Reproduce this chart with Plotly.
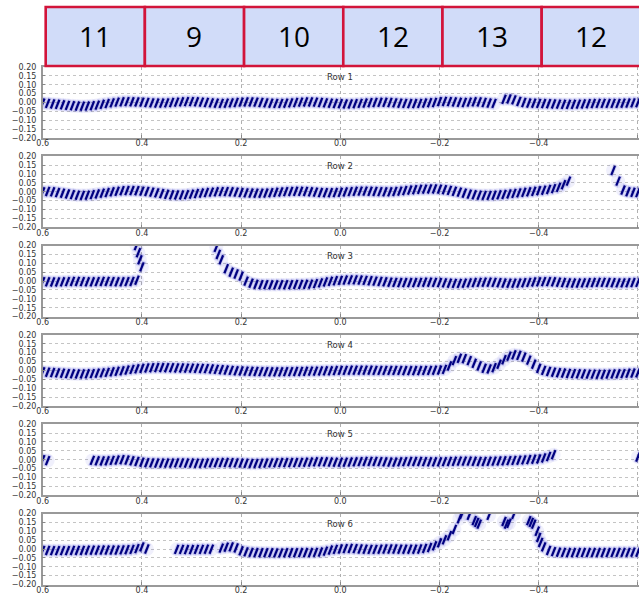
import numpy as np
import plotly.graph_objects as go

# Sample positions along the horizontal coordinate (0.60 down to -0.60, step 0.01)
x_grid = np.round(np.linspace(0.60, -0.60, 121), 2)

N = None
row1 = [-0.003, -0.005, -0.008, -0.010, -0.013,
        -0.016, -0.018, -0.020, -0.021, -0.020,
        -0.018, -0.015, -0.010, -0.006, -0.002,
        0.002, 0.004, 0.005, 0.004, 0.003,
        0.002, 0.000, -0.002, -0.003, -0.003,
        -0.002, 0.000, 0.002, 0.004, 0.005,
        0.005, 0.004, 0.002, 0.000, -0.002,
        -0.004, -0.005, -0.004, -0.002, 0.000,
        0.002, 0.003, 0.003, 0.002, 0.000,
        -0.002, -0.004, -0.005, -0.005, -0.004,
        -0.002, 0.000, 0.002, 0.003, 0.003,
        0.002, 0.000, -0.002, -0.004, -0.006,
        -0.007, -0.008, -0.008, -0.007, -0.005,
        -0.003, -0.001, 0.000, 0.001, 0.001,
        0.000, -0.002, -0.004, -0.005, -0.006,
        -0.006, -0.005, -0.003, -0.001, 0.000,
        0.005, 0.006, 0.005, 0.003, 0.001,
        0.000, 0.002, 0.004, 0.003, 0.000,
        -0.003, -0.005, N, 0.018, 0.020,
        0.015, 0.006, 0.000, -0.003, -0.004,
        -0.005, -0.006, -0.007, -0.008, -0.009,
        -0.010, -0.010, -0.010, -0.009, -0.008,
        -0.007, -0.006, -0.005, -0.005, -0.005,
        -0.005, -0.005, -0.004, -0.003, -0.002,
        -0.001]

row2 = [0.000, 0.002, 0.000, -0.004, -0.008,
        -0.012, -0.016, -0.019, -0.020, -0.019,
        -0.016, -0.012, -0.008, -0.004, 0.000,
        0.003, 0.006, 0.007, 0.007, 0.006,
        0.004, 0.002, -0.002, -0.006, -0.010,
        -0.014, -0.017, -0.018, -0.018, -0.016,
        -0.013, -0.010, -0.007, -0.004, -0.002,
        0.000, 0.001, 0.001, 0.000, -0.002,
        -0.004, -0.006, -0.007, -0.008, -0.008,
        -0.007, -0.005, -0.003, -0.001, 0.001,
        0.002, 0.003, 0.003, 0.002, 0.000,
        -0.002, -0.004, -0.005, -0.005, -0.004,
        -0.003, -0.001, 0.001, 0.003, 0.004,
        0.004, 0.003, 0.002, 0.001, 0.000,
        0.000, 0.002, 0.004, 0.007, 0.010,
        0.012, 0.014, 0.015, 0.016, 0.016,
        0.015, 0.012, 0.008, 0.003, -0.002,
        -0.008, -0.013, -0.017, -0.019, -0.020,
        -0.020, -0.019, -0.017, -0.015, -0.012,
        -0.009, -0.006, -0.003, 0.000, 0.003,
        0.006, 0.009, 0.013, 0.018, 0.025,
        0.040, 0.060, N, N, N,
        N, N, N, N, N,
        0.120, 0.060, 0.010, 0.000, -0.003,
        -0.004]

row3 = [-0.003, -0.004, -0.005, -0.005, -0.004,
        -0.003, -0.002, -0.002, -0.003, -0.004,
        -0.004, -0.003, -0.002, -0.002, -0.003,
        -0.004, -0.004, -0.003, -0.002, 0.005,
        0.080, N, N, N, N,
        N, N, N, N, N,
        N, N, N, N, N,
        0.190, 0.120, 0.070, 0.050, 0.040,
        0.028, 0.000, -0.012, -0.018, -0.020,
        -0.020, -0.021, -0.021, -0.020, -0.020,
        -0.020, -0.019, -0.019, -0.018, -0.017,
        -0.014, -0.010, -0.005, -0.001, 0.002,
        0.004, 0.006, 0.007, 0.007, 0.006,
        0.004, 0.002, 0.000, -0.002, -0.004,
        -0.006, -0.007, -0.008, -0.008, -0.008,
        -0.008, -0.007, -0.006, -0.006, -0.007,
        -0.008, -0.010, -0.012, -0.013, -0.013,
        -0.012, -0.010, -0.008, -0.007, -0.006,
        -0.006, -0.007, -0.009, -0.011, -0.012,
        -0.012, -0.011, -0.009, -0.007, -0.005,
        -0.004, -0.003, -0.003, -0.004, -0.006,
        -0.008, -0.010, -0.011, -0.011, -0.010,
        -0.009, -0.008, -0.007, -0.007, -0.008,
        -0.009, -0.010, -0.010, -0.009, -0.008,
        -0.007]

row4 = [-0.008, -0.010, -0.012, -0.014, -0.016,
        -0.018, -0.019, -0.020, -0.020, -0.019,
        -0.018, -0.016, -0.014, -0.011, -0.008,
        -0.005, -0.002, 0.002, 0.006, 0.009,
        0.012, 0.014, 0.015, 0.016, 0.016,
        0.015, 0.015, 0.014, 0.014, 0.013,
        0.013, 0.012, 0.011, 0.010, 0.008,
        0.006, 0.004, 0.002, 0.000, -0.002,
        -0.003, -0.004, -0.005, -0.006, -0.007,
        -0.007, -0.008, -0.008, -0.008, -0.007,
        -0.007, -0.006, -0.006, -0.005, -0.004,
        -0.004, -0.003, -0.002, -0.002, -0.001,
        0.000, 0.000, 0.001, 0.001, 0.001,
        0.001, 0.001, 0.000, 0.000, 0.000,
        0.000, 0.000, 0.000, -0.001, -0.001,
        -0.001, -0.001, 0.000, 0.000, 0.001,
        0.002, 0.006, 0.025, 0.055, 0.068,
        0.066, 0.055, 0.040, 0.025, 0.012,
        0.008, 0.015, 0.035, 0.060, 0.080,
        0.088, 0.085, 0.075, 0.058, 0.035,
        0.012, 0.000, -0.006, -0.010, -0.013,
        -0.015, -0.017, -0.018, -0.019, -0.020,
        -0.021, -0.021, -0.022, -0.022, -0.021,
        -0.020, -0.019, -0.018, -0.016, -0.015,
        -0.014]

row5 = [0.000, -0.005, N, N, N,
        N, N, N, N, N,
        -0.004, -0.006, -0.007, -0.006, -0.004,
        -0.002, 0.000, -0.002, -0.006, -0.010,
        -0.014, -0.017, -0.018, -0.019, -0.019,
        -0.019, -0.019, -0.018, -0.018, -0.019,
        -0.019, -0.020, -0.020, -0.019, -0.018,
        -0.017, -0.016, -0.016, -0.017, -0.018,
        -0.019, -0.020, -0.021, -0.021, -0.020,
        -0.019, -0.018, -0.017, -0.016, -0.016,
        -0.016, -0.016, -0.015, -0.014, -0.013,
        -0.012, -0.012, -0.012, -0.013, -0.014,
        -0.014, -0.014, -0.013, -0.012, -0.011,
        -0.010, -0.010, -0.010, -0.011, -0.012,
        -0.013, -0.013, -0.012, -0.011, -0.010,
        -0.010, -0.010, -0.011, -0.012, -0.012,
        -0.012, -0.011, -0.010, -0.009, -0.008,
        -0.008, -0.008, -0.009, -0.010, -0.010,
        -0.009, -0.008, -0.007, -0.006, -0.005,
        -0.004, -0.003, -0.001, 0.001, 0.003,
        0.004, 0.010, 0.018, 0.028, N,
        N, N, N, N, N,
        N, N, N, N, N,
        N, N, N, N, N,
        0.015]

row6 = [-0.008, -0.008, -0.009, -0.009, -0.009,
        -0.009, -0.008, -0.008, -0.008, -0.007,
        -0.007, -0.007, -0.006, -0.006, -0.006,
        -0.006, -0.005, -0.004, -0.002, 0.002,
        0.012, 0.000, N, N, N,
        N, N, -0.002, -0.002, -0.003,
        -0.003, -0.002, -0.002, -0.001, -0.001,
        N, 0.005, 0.010, 0.012, 0.006,
        -0.010, -0.016, -0.019, -0.020, -0.021,
        -0.021, -0.021, -0.022, -0.022, -0.021,
        -0.021, -0.021, -0.020, -0.020, -0.020,
        -0.019, -0.017, -0.012, -0.006, -0.002,
        0.000, 0.002, 0.003, 0.002, 0.000,
        -0.001, -0.002, -0.002, -0.001, 0.000,
        0.000, 0.000, -0.001, -0.001, -0.001,
        -0.001, 0.000, 0.003, 0.008, 0.018,
        0.035, 0.052, 0.075, 0.110, 0.170,
        N, 0.190, 0.160, 0.140, N,
        0.190, N, N, 0.155, 0.145,
        0.195, N, N, 0.160, 0.140,
        0.065, 0.012, -0.008, -0.015, -0.018,
        -0.019, -0.020, -0.020, -0.020, -0.020,
        -0.020, -0.020, -0.020, -0.020, -0.020,
        -0.020, -0.019, -0.019, -0.019, -0.018,
        -0.018]

# Off-grid samples on the steep stretches
extra_x = {3: [0.404, 0.407, 0.411, 0.246],
           6: [-0.245, -0.275, -0.335, -0.385, -0.397, -0.404]}
extra_y = {3: [0.120, 0.160, 0.200, 0.150],
           6: [0.195, 0.150, 0.140, 0.150, 0.100, 0.037]}

rows = [row1, row2, row3, row4, row5, row6]
row_titles = ["Row 1", "Row 2", "Row 3", "Row 4", "Row 5", "Row 6"]

bin_edges = [0.6, 0.4, 0.2, 0.0, -0.2, -0.4, -0.6]
bin_counts = [11, 9, 10, 12, 13, 12]

x_ticks = [0.6, 0.4, 0.2, 0.0, -0.2, -0.4, -0.6]
y_ticks = [0.20, 0.15, 0.10, 0.05, 0.00, -0.05, -0.10, -0.15, -0.20]

W, H = 639, 597
X_LEFT = 42.7
ROW_TOP0, ROW_STEP, ROW_H = 67.0, 89.3, 71.0
X_MIN, X_MAX = -0.6022, 0.6

DASH = "#000080"
HALO = "rgba(70,70,215,0.08)"

fig = go.Figure()
layout = dict(
    width=W, height=H,
    margin=dict(l=0, r=0, t=0, b=0, autoexpand=False),
    paper_bgcolor="white", plot_bgcolor="white",
    showlegend=False,
    font=dict(family="DejaVu Sans", size=8, color="#333"),
)

annotations = []
for k, vals in enumerate(rows, start=1):
    xs = list(x_grid) + extra_x.get(k, [])
    ys = list(vals) + extra_y.get(k, [])
    xa = "x" if k == 1 else f"x{k}"
    ya = "y" if k == 1 else f"y{k}"
    fig.add_trace(go.Scatter(
        x=xs, y=ys, mode="markers", xaxis=xa, yaxis=ya,
        marker=dict(symbol="circle", size=14, color=HALO, line=dict(width=0)),
        hoverinfo="skip", cliponaxis=True))
    fig.add_trace(go.Scatter(
        x=xs, y=ys, mode="markers", xaxis=xa, yaxis=ya,
        marker=dict(symbol="line-ns", size=8.5, angle=22,
                    line=dict(width=4, color="rgba(50,50,200,0.18)")),
        hoverinfo="skip", cliponaxis=True))
    fig.add_trace(go.Scatter(
        x=xs, y=ys, mode="markers", xaxis=xa, yaxis=ya,
        marker=dict(symbol="line-ns", size=7, angle=22,
                    line=dict(width=2.2, color=DASH)),
        cliponaxis=True))

    top = ROW_TOP0 + ROW_STEP * (k - 1)
    dom = [1 - (top + ROW_H) / H, 1 - top / H]
    sfx = "" if k == 1 else str(k)
    layout["xaxis" + sfx] = dict(
        domain=[X_LEFT / W, 1.0], range=[X_MAX, X_MIN], anchor=ya,
        automargin=False,
        tickvals=x_ticks, tickformat=".1f", ticks="inside", ticklen=3,
        tickcolor="#888", showline=True, linecolor="#999", linewidth=1.5,
        mirror=True, showgrid=True, gridcolor="#b0b0b0", griddash="dot",
        gridwidth=1, zeroline=False, ticklabelstandoff=-3,
        tickfont=dict(size=8, color="#333"))
    layout["yaxis" + sfx] = dict(
        domain=dom, range=[-0.2, 0.2], anchor=xa, automargin=False,
        tickvals=y_ticks, tickformat=".2f", ticks="inside", ticklen=3,
        tickcolor="#888", showline=True, linecolor="#999", linewidth=1.5,
        mirror=False, showgrid=True, gridcolor="#c4c4c4", griddash="dot",
        gridwidth=1, zeroline=False, ticklabelstandoff=3,
        tickfont=dict(size=8, color="#333"))
    annotations.append(dict(
        text=row_titles[k - 1], x=0.0, xref=xa, y=1, yref=f"{ya} domain",
        yshift=-10, yanchor="middle", xanchor="center", showarrow=False,
        font=dict(size=8.5, color="#333")))

# Header boxes holding the per-bin counts
shapes = []
box_top, box_bot = 1 - 7 / H, 1 - 66 / H
for i, n in enumerate(bin_counts):
    x0 = bin_edges[i] - 0.006
    x1 = bin_edges[i + 1] - 0.006
    shapes.append(dict(type="rect", xref="x", yref="paper",
                       x0=x0, x1=x1, y0=box_bot, y1=box_top,
                       fillcolor="#d1dcf9", line=dict(color="#d2143a", width=2.6),
                       layer="above"))
    annotations.append(dict(text=str(n), x=(x0 + x1) / 2, xref="x",
                            y=(box_top + box_bot) / 2, yref="paper",
                            xanchor="center", yanchor="middle", showarrow=False,
                            font=dict(family="Open Sans", size=28, color="#000")))

layout["shapes"] = shapes
layout["annotations"] = annotations
fig.update_layout(**layout)
fig.write_html("out.html")
